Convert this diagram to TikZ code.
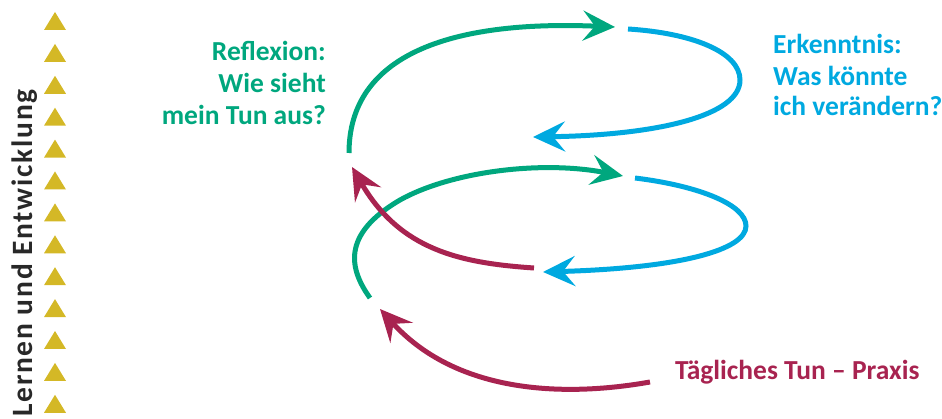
\documentclass[tikz,border=0pt]{standalone}
\usepackage{fontspec}
\setmainfont{Carlito}
\newfontfamily\spacedfont[LetterSpace=6]{Carlito}
\usetikzlibrary{arrows.meta}
\definecolor{cgreen}{RGB}{0,167,126}
\definecolor{cblue}{RGB}{0,169,224}
\definecolor{ccrim}{RGB}{168,35,80}
\definecolor{cyel}{RGB}{212,184,38}
\definecolor{cdark}{RGB}{40,40,40}
\tikzset{
  loop/.style={line width=5pt, -{Stealth[length=32pt,width=30pt,inset=12pt]}},
  lbl/.style={inner sep=0pt, font=\fontsize{27.5}{32}\selectfont\bfseries},
  tri/.style={fill=cyel},
}
\begin{document}
\begin{tikzpicture}[x=1pt,y=-1pt]
\useasboundingbox (0,0) rectangle (942,419);
% triangles
\foreach \i in {0,...,12}{
  \fill[tri] (44,{30+31.9*\i}) -- (66,{30+31.9*\i}) -- (55,{12+31.9*\i}) -- cycle;
}
% vertical label
\node[lbl, rotate=90, anchor=base west, text=cdark, font=\fontsize{29.5}{32}\spacedfont\bfseries] (lern) at (32,417) {Lernen und Entwicklung};
% texts
\node[lbl, text=cgreen, anchor=base east] (r1) at (326,61) {Reflexion:};
\node[lbl, text=cgreen, anchor=base east] (r2) at (326,93) {Wie sieht};
\node[lbl, text=cgreen, anchor=base east] (r3) at (326,125) {mein Tun aus?};
\node[lbl, text=cblue, anchor=base west] (e1) at (773,54) {Erkenntnis:};
\node[lbl, text=cblue, anchor=base west] (e2) at (773,86) {Was könnte};
\node[lbl, text=cblue, anchor=base west] (e3) at (773,116) {ich verändern?};
\node[lbl, text=ccrim, anchor=base west] (p1) at (675,379) {Tägliches Tun – Praxis};
% coordinates
\coordinate (g1s) at (349,153);
\coordinate (g1e) at (615,27);
\coordinate (b1s) at (628,29);
\coordinate (b1r) at (740,80);
\coordinate (b1e) at (533,137);
\coordinate (g2s) at (370,298);
\coordinate (g2m) at (400,200);
\coordinate (g2e) at (623,176);
\coordinate (b2s) at (635,178);
\coordinate (b2r) at (746,226);
\coordinate (b2e) at (543,272);
\coordinate (c1s) at (534,268);
\coordinate (c1e) at (352,167);
\coordinate (c2s) at (650,382);
\coordinate (c2e) at (380,309);
% connectors
\draw[loop, cgreen] (g1s) .. controls (349,55) and (450,20) .. (g1e);
\draw[loop, cblue] (b1s) .. controls (692,33) and (740,52) .. (b1r) .. controls (740,115) and (660,135) .. (b1e);
\draw[loop, cgreen] (g2s) .. controls (350,270) and (340,235) .. (g2m) .. controls (450,172) and (540,160) .. (g2e);
\draw[loop, cblue] (b2s) .. controls (700,186) and (746,205) .. (b2r) .. controls (746,250) and (680,268) .. (b2e);
\draw[loop, ccrim] (c1s) .. controls (460,263) and (400,250) .. (c1e);
\draw[loop, ccrim] (c2s) .. controls (560,398) and (455,392) .. (c2e);
\end{tikzpicture}
\end{document}
